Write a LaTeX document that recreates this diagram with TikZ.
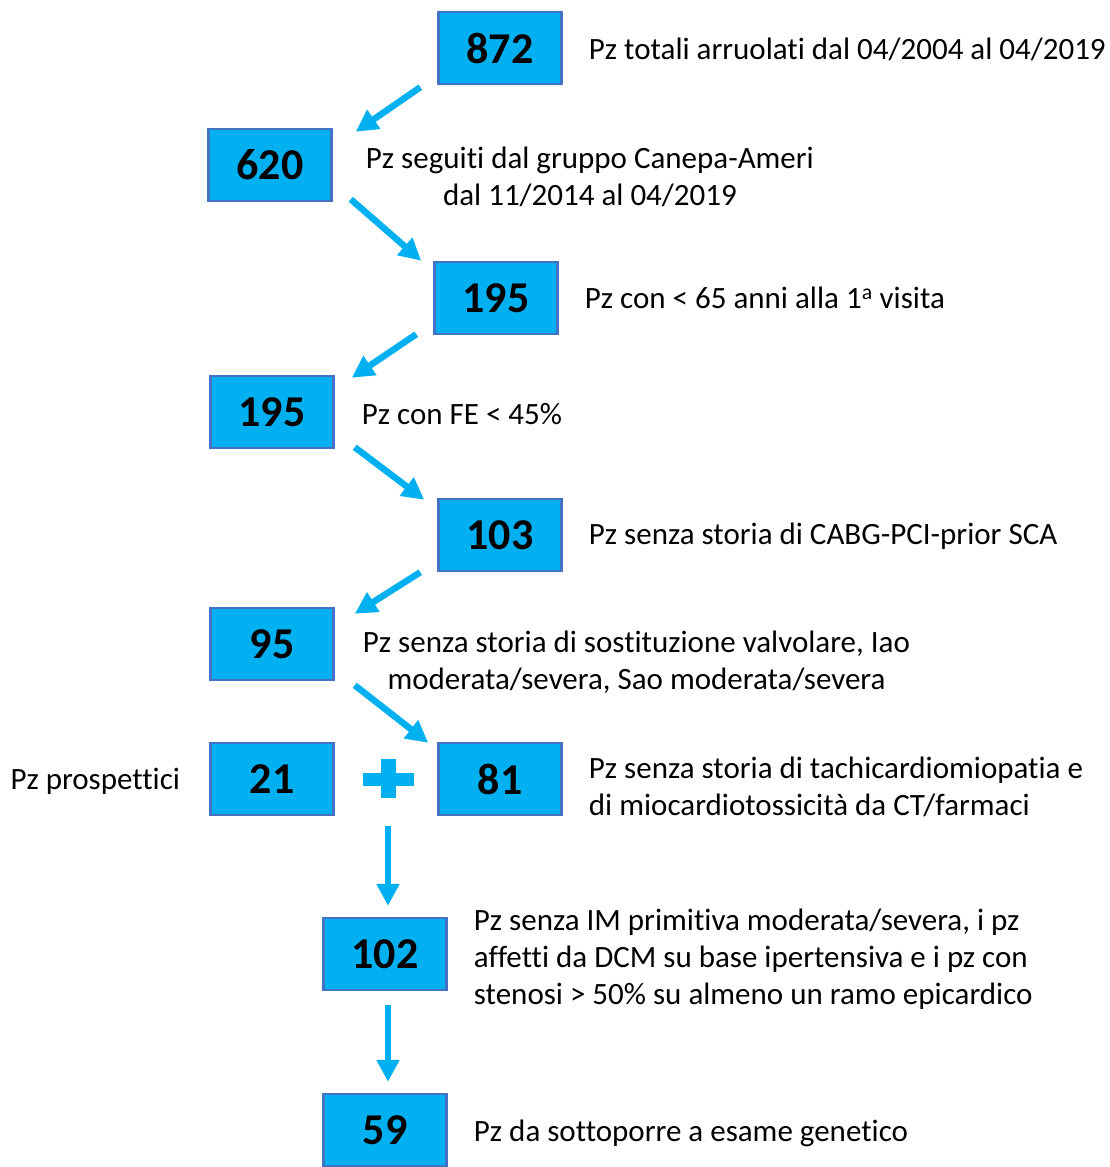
\documentclass[tikz,border=0pt]{standalone}
\usepackage{fontspec}
\setmainfont{Carlito}[Ligatures=NoCommon]
\usetikzlibrary{positioning,arrows.meta,calc}
\definecolor{boxfill}{HTML}{00B0F0}
\definecolor{boxline}{HTML}{4472C4}

\begin{document}
\begin{tikzpicture}[
  x=1pt, y=-1pt,
  num/.style={draw=boxline, line width=2.5pt, fill=boxfill, inner sep=0pt,
              minimum width=123pt, minimum height=72pt,
              font=\fontsize{44}{50}\selectfont\bfseries},
  txt/.style={inner sep=0pt, align=left, font=\fontsize{31}{37}\selectfont},
  flow/.style={-{Triangle[width=22pt,length=22pt]}, line width=6.5pt, boxfill},
]
\useasboundingbox (0,0) rectangle (1110,1167);
% number boxes
\node[num] (n872) at (500,48) {872};
\node[num] (n620) at (270,165) {620};
\node[num] (n195a) at (496,298) {195};
\node[num] (n195b) at (272,412) {195};
\node[num] (n103) at (500,535) {103};
\node[num] (n95) at (272,644) {95};
\node[num] (n21) at (272,779) {21};
\node[num] (n81) at (500,779) {81};
\node[num] (n102) at (385,954) {102};
\node[num] (n59) at (385,1130) {59};
% descriptions
\node[txt, right=26pt of n872, yshift=-1pt] (t872) {Pz totali arruolati dal 04/2004 al 04/2019};
\node[txt, align=center, right=33pt of n620, yshift=-12pt] (t620)
  {Pz seguiti dal gruppo Canepa-Ameri\\dal 11/2014 al 04/2019};
\node[txt, right=26pt of n195a] (t195a) {Pz con < 65 anni alla 1\textsuperscript{a} visita};
\node[txt, right=27pt of n195b, yshift=-2pt] (t195b) {Pz con FE < 45\%};
\node[txt, right=26pt of n103, yshift=-1pt] (t103) {Pz senza storia di CABG-PCI-prior SCA};
\node[txt, align=center, right=28pt of n95, yshift=-18pt] (t95)
  {Pz senza storia di sostituzione valvolare, Iao\\moderata/severa, Sao moderata/severa};
\node[txt, left=29pt of n21, yshift=-2pt] (t21) {Pz prospettici};
\node[txt, right=26pt of n81, yshift=-8pt] (t81)
  {Pz senza storia di tachicardiomiopatia e\\di miocardiotossicità da CT/farmaci};
\node[txt, right=26pt of n102, yshift=-5pt] (t102)
  {Pz senza IM primitiva moderata/severa, i pz\\affetti da DCM su base ipertensiva e i pz con\\stenosi > 50\% su almeno un ramo epicardico};
\node[txt, right=26pt of n59, yshift=-3pt] (t59) {Pz da sottoporre a esame genetico};
% plus sign between 21 and 81
\coordinate (plus) at (388,779);
\fill[boxfill] ($(plus)+(-25.5,-6.5)$) rectangle ($(plus)+(25.5,6.5)$);
\fill[boxfill] ($(plus)+(-7.5,-20)$) rectangle ($(plus)+(7.5,19)$);
% flows
\draw[flow] ($(n872.south west)+(-17,2)$) -- ($(n620.north east)+(23,4)$);
\draw[flow] ($(n620.south east)+(18,-3)$) -- ($(n195a.north west)+(-12,0)$);
\draw[flow] ($(n195a.south west)+(-17,-1)$) -- ($(n195b.north east)+(17,3)$);
\draw[flow] ($(n195b.south east)+(20,-2)$) -- ($(n103.north west)+(-13,2)$);
\draw[flow] ($(n103.south west)+(-17,0)$) -- ($(n95.north east)+(20,7)$);
\draw[flow] ($(n95.south east)+(20,4)$) -- ($(n81.north west)+(-9,1)$);
\draw[flow] ($(plus)+(0,47)$) -- ($(n102.north)+(3,-11)$);
\draw[flow] ($(n102.south)+(3,14)$) -- ($(n59.north)+(3,-11)$);
\end{tikzpicture}
\end{document}
